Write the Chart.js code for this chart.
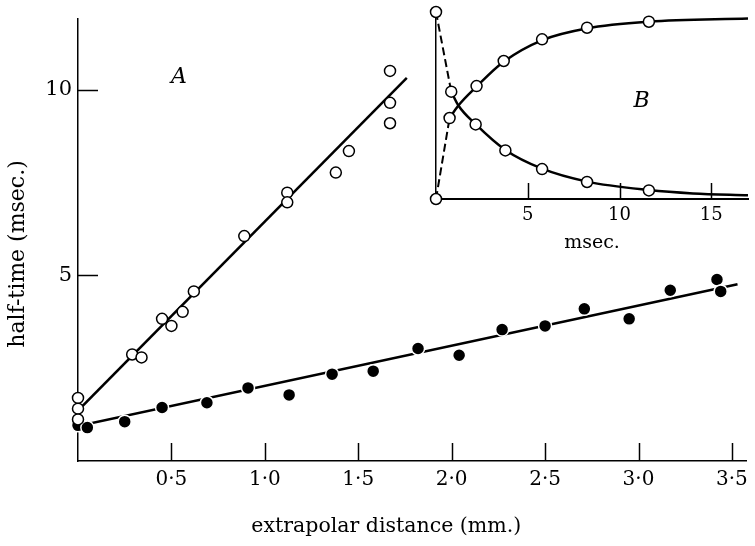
<!DOCTYPE html>
<html>
<head>
<meta charset="utf-8">
<script src="https://cdn.jsdelivr.net/npm/chart.js@4.4.1/dist/chart.umd.min.js"></script>
<style>
  html, body { margin: 0; padding: 0; background: #fff; }
  #wrap { position: relative; width: 755px; height: 546px; }
  #main { position: absolute; left: 0; top: 0; }
  #inset { position: absolute; left: 400px; top: 0; }
</style>
</head>
<body>
<div id="wrap">
  <canvas id="main" width="755" height="546"></canvas>
  <canvas id="inset" width="355" height="260"></canvas>
</div>
<script>
// A: half-time (msec.) against extrapolar distance (mm.)
const openX = [0, 0, 0, 0.29, 0.34, 0.45, 0.50, 0.56, 0.62, 0.89, 1.12, 1.12, 1.38, 1.45, 1.67, 1.67, 1.67];
const openY = [1.70, 1.41, 1.12, 2.87, 2.79, 3.83, 3.64, 4.02, 4.57, 6.06, 7.23, 6.97, 7.77, 8.35, 10.51, 9.65, 9.10];
const openFitX = [0, 1.76];
const openFitY = [1.36, 10.32];

const filledX = [0, 0.05, 0.25, 0.45, 0.69, 0.91, 1.13, 1.36, 1.58, 1.82, 2.04, 2.27, 2.50, 2.71, 2.95, 3.17, 3.42, 3.44];
const filledY = [0.96, 0.90, 1.06, 1.44, 1.57, 1.97, 1.78, 2.34, 2.42, 3.03, 2.85, 3.54, 3.64, 4.10, 3.83, 4.60, 4.89, 4.57];
const filledFitX = [0, 3.53];
const filledFitY = [0.94, 4.76];

const mainXTicks = [0.5, 1.0, 1.5, 2.0, 2.5, 3.0, 3.5];
const mainYTicks = [5, 10];

// B: inset, time course (msec.)
const risePtsX = [0, 0.74, 2.21, 3.69, 5.78, 8.23, 11.6];
const risePtsY = [0, 0.433, 0.604, 0.738, 0.854, 0.916, 0.948];
const fallPtsX = [0, 0.83, 2.16, 3.78, 5.78, 8.23, 11.6];
const fallPtsY = [1, 0.574, 0.399, 0.26, 0.16, 0.091, 0.046];
const riseCurveX = [0.74, 1.22, 2.2, 3.7, 5.8, 8.2, 11.6, 17];
const riseCurveY = [0.433, 0.50, 0.60, 0.735, 0.85, 0.912, 0.948, 0.965];
const fallCurveX = [0.83, 1.22, 2.16, 3.78, 5.78, 8.23, 11.6, 14, 17];
const fallCurveY = [0.574, 0.50, 0.40, 0.262, 0.162, 0.093, 0.048, 0.03, 0.02];
const riseDashX = [0, 0.74];
const riseDashY = [0, 0.433];
const fallDashX = [0, 0.83];
const fallDashY = [1, 0.574];
const insetXTicks = [5, 10, 15];

const SERIF = '"DejaVu Serif", "Liberation Serif", serif';

function pts(xs, ys) {
    return xs.map((x, i) => ({ x: x, y: ys[i] }));
}

function decimalDot(v) {
    return v.toFixed(1).replace('.', '\u00b7');
}

// tick marks that point into the plot instead of out of it
const inwardTicks = {
    id: 'inwardTicks',
    afterDatasetsDraw(chart, args, opts) {
        const ctx = chart.ctx;
        const xs = chart.scales.x;
        const ys = chart.scales.y;
        ctx.save();
        ctx.strokeStyle = '#000';
        ctx.lineWidth = 1.5;
        (opts.xValues || []).forEach(v => {
            const px = Math.round(xs.getPixelForValue(v)) + 0.5;
            ctx.beginPath();
            ctx.moveTo(px, xs.top);
            ctx.lineTo(px, xs.top - opts.xLen);
            ctx.stroke();
        });
        (opts.yValues || []).forEach(v => {
            const py = Math.round(ys.getPixelForValue(v)) + 0.5;
            ctx.beginPath();
            ctx.moveTo(ys.right, py);
            ctx.lineTo(ys.right + opts.yLen, py);
            ctx.stroke();
        });
        ctx.restore();
    }
};

// free text; x/y in data units, or px/py in canvas pixels
const notes = {
    id: 'notes',
    afterDraw(chart, args, opts) {
        const ctx = chart.ctx;
        (opts.items || []).forEach(n => {
            const px = n.px !== undefined ? n.px : chart.scales.x.getPixelForValue(n.x);
            const py = n.py !== undefined ? n.py : chart.scales.y.getPixelForValue(n.y);
            ctx.save();
            ctx.fillStyle = '#000';
            ctx.textAlign = 'center';
            ctx.textBaseline = 'middle';
            ctx.font = n.font;
            ctx.translate(px, py);
            if (n.rotate) ctx.rotate(n.rotate);
            ctx.fillText(n.text, 0, 0);
            ctx.restore();
        });
    }
};

new Chart(document.getElementById('main'), {
    type: 'scatter',
    plugins: [inwardTicks, notes],
    data: {
        datasets: [
            {
                label: 'open',
                data: pts(openX, openY),
                pointRadius: 5.5,
                pointBackgroundColor: '#fff',
                pointBorderColor: '#000',
                pointBorderWidth: 1.5,
                clip: false,
                order: 0
            },
            {
                label: 'filled',
                data: pts(filledX, filledY),
                pointRadius: 6.5,
                pointBackgroundColor: '#000',
                pointBorderColor: '#fff',
                pointBorderWidth: 1.5,
                clip: false,
                order: 0
            },
            {
                label: 'open fit',
                data: pts(openFitX, openFitY),
                showLine: true,
                borderColor: '#000',
                borderWidth: 2.5,
                pointRadius: 0,
                order: 1
            },
            {
                label: 'filled fit',
                data: pts(filledFitX, filledFitY),
                showLine: true,
                borderColor: '#000',
                borderWidth: 2.5,
                pointRadius: 0,
                order: 1
            }
        ]
    },
    options: {
        responsive: false,
        animation: false,
        devicePixelRatio: 1,
        layout: { padding: { left: 0, right: 3, top: 13, bottom: 0 } },
        plugins: {
            legend: { display: false },
            tooltip: { enabled: false },
            inwardTicks: { xValues: mainXTicks, yValues: mainYTicks, xLen: 18, yLen: 20 },
            notes: {
                items: [
                    { text: 'A', x: 0.54, y: 10.35, font: 'italic 22px ' + SERIF },
                    { text: 'extrapolar distance (mm.)', x: 1.65, py: 527, font: '20.5px ' + SERIF },
                    { text: 'half-time (msec.)', px: 18, py: 254, rotate: -Math.PI / 2, font: '22px ' + SERIF }
                ]
            }
        },
        scales: {
            x: {
                type: 'linear',
                min: 0,
                max: 3.58,
                afterFit: s => { s.height = 85; },
                grid: { display: false, drawTicks: false },
                border: { display: true, color: '#000', width: 1.5 },
                ticks: {
                    stepSize: 0.5,
                    includeBounds: false,
                    padding: 7,
                    color: '#000',
                    font: { family: SERIF, size: 20 },
                    callback: v => (v === 0 ? '' : decimalDot(v))
                }
            },
            y: {
                type: 'linear',
                min: 0,
                max: 11.92,
                afterFit: s => { s.width = 78; },
                grid: { display: false, drawTicks: false },
                border: { display: true, color: '#000', width: 1.5 },
                ticks: {
                    stepSize: 5,
                    includeBounds: false,
                    padding: 6,
                    color: '#000',
                    font: { family: SERIF, size: 21 },
                    callback: v => (v === 0 ? '' : v)
                }
            }
        }
    }
});

new Chart(document.getElementById('inset'), {
    type: 'scatter',
    plugins: [inwardTicks, notes],
    data: {
        datasets: [
            {
                label: 'rise',
                data: pts(risePtsX, risePtsY),
                pointRadius: 5.5,
                pointBackgroundColor: '#fff',
                pointBorderColor: '#000',
                pointBorderWidth: 1.5,
                clip: false,
                order: 0
            },
            {
                label: 'fall',
                data: pts(fallPtsX, fallPtsY),
                pointRadius: 5.5,
                pointBackgroundColor: '#fff',
                pointBorderColor: '#000',
                pointBorderWidth: 1.5,
                clip: false,
                order: 0
            },
            {
                label: 'rise curve',
                data: pts(riseCurveX, riseCurveY),
                showLine: true,
                cubicInterpolationMode: 'monotone',
                borderColor: '#000',
                borderWidth: 2.5,
                pointRadius: 0,
                order: 1
            },
            {
                label: 'fall curve',
                data: pts(fallCurveX, fallCurveY),
                showLine: true,
                cubicInterpolationMode: 'monotone',
                borderColor: '#000',
                borderWidth: 2.5,
                pointRadius: 0,
                order: 1
            },
            {
                label: 'rise start',
                data: pts(riseDashX, riseDashY),
                showLine: true,
                borderColor: '#000',
                borderWidth: 2,
                borderDash: [8, 4],
                pointRadius: 0,
                order: 1
            },
            {
                label: 'fall start',
                data: pts(fallDashX, fallDashY),
                showLine: true,
                borderColor: '#000',
                borderWidth: 2,
                borderDash: [8, 4],
                pointRadius: 0,
                order: 1
            }
        ]
    },
    options: {
        responsive: false,
        animation: false,
        devicePixelRatio: 1,
        layout: { padding: { left: 0, right: 0, top: 12, bottom: 0 } },
        plugins: {
            legend: { display: false },
            tooltip: { enabled: false },
            inwardTicks: { xValues: insetXTicks, yValues: [], xLen: 16, yLen: 0 },
            notes: {
                items: [
                    { text: 'B', x: 11.2, y: 0.52, font: 'italic 22px ' + SERIF }
                ]
            }
        },
        scales: {
            x: {
                type: 'linear',
                min: 0,
                max: 17,
                afterFit: s => { s.height = 61; },
                grid: { display: false, drawTicks: false },
                border: { display: true, color: '#000', width: 2 },
                ticks: {
                    stepSize: 5,
                    includeBounds: false,
                    padding: 6,
                    color: '#000',
                    font: { family: SERIF, size: 18 },
                    callback: v => (v === 0 ? '' : v)
                },
                title: {
                    display: true,
                    text: 'msec.',
                    color: '#000',
                    font: { family: SERIF, size: 19 },
                    padding: { top: 0, bottom: 6 }
                }
            },
            y: {
                type: 'linear',
                min: 0,
                max: 1,
                afterFit: s => { s.width = 36; },
                grid: { display: false, drawTicks: false },
                border: { display: true, color: '#000', width: 1.5 },
                ticks: { display: false }
            }
        }
    }
});
</script>
</body>
</html>
